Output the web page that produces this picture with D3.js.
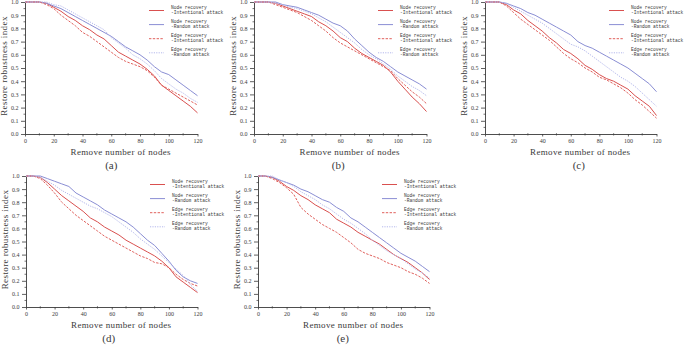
<!DOCTYPE html>
<html>
<head>
<meta charset="utf-8">
<script src="https://cdn.jsdelivr.net/npm/d3@7"></script>
<style>
  body { margin: 0; background: #fff; }
  svg { display: block; }
</style>
</head>
<body>
<div id="chart"></div>
<script>
// x 轴：移除节点数
const removed = [0, 5, 10, 15, 20, 25, 30, 35, 40, 45, 50, 55, 60, 65, 70, 75, 80, 85, 90, 95, 100, 105, 110, 115, 120];
const xTicks = [0, 20, 40, 60, 80, 100, 120];
const yTicks = [0, 0.1, 0.2, 0.3, 0.4, 0.5, 0.6, 0.7, 0.8, 0.9, 1.0];

const seriesNames = [
    ["Node recovery", "-Intentional attack"],
    ["Node recovery", "-Random attack"],
    ["Edge recovery", "-Intentional attack"],
    ["Edge recovery", "-Random attack"]
];
const panelLabels = ["(a)", "(b)", "(c)", "(d)", "(e)"];

// (a)
const aNodeInt  = [1, 1, 1, 0.99, 0.96, 0.93, 0.89, 0.86, 0.82, 0.79, 0.75, 0.72, 0.67, 0.62, 0.59, 0.56, 0.53, 0.49, 0.44, 0.37, 0.33, 0.29, 0.25, 0.21, 0.16];
const aNodeRand = [1, 1, 1, 0.99, 0.97, 0.95, 0.92, 0.89, 0.86, 0.83, 0.80, 0.77, 0.74, 0.70, 0.66, 0.63, 0.60, 0.56, 0.51, 0.47, 0.45, 0.41, 0.37, 0.33, 0.29];
const aEdgeInt  = [1, 1, 1, 0.98, 0.95, 0.90, 0.86, 0.82, 0.77, 0.74, 0.70, 0.66, 0.62, 0.58, 0.55, 0.53, 0.51, 0.48, 0.43, 0.37, 0.34, 0.31, 0.28, 0.25, 0.22];
const aEdgeRand = [1, 1, 1, 1.0, 0.98, 0.97, 0.94, 0.91, 0.88, 0.85, 0.82, 0.79, 0.73, 0.69, 0.65, 0.60, 0.57, 0.53, 0.48, 0.42, 0.38, 0.34, 0.31, 0.27, 0.24];

// (b)
const bNodeInt  = [1, 1, 1, 0.99, 0.97, 0.95, 0.93, 0.91, 0.89, 0.85, 0.82, 0.78, 0.73, 0.70, 0.65, 0.61, 0.58, 0.55, 0.52, 0.47, 0.40, 0.34, 0.28, 0.23, 0.17];
const bNodeRand = [1, 1, 1, 1.0, 0.98, 0.97, 0.96, 0.94, 0.92, 0.90, 0.87, 0.84, 0.82, 0.78, 0.72, 0.67, 0.62, 0.58, 0.55, 0.51, 0.47, 0.44, 0.41, 0.38, 0.34];
const bEdgeInt  = [1, 1, 1, 0.98, 0.96, 0.94, 0.92, 0.89, 0.86, 0.82, 0.78, 0.73, 0.69, 0.66, 0.63, 0.60, 0.57, 0.54, 0.51, 0.48, 0.42, 0.37, 0.32, 0.28, 0.23];
const bEdgeRand = [1, 1, 1, 0.99, 0.98, 0.96, 0.95, 0.93, 0.91, 0.88, 0.85, 0.81, 0.77, 0.73, 0.69, 0.64, 0.60, 0.57, 0.53, 0.49, 0.44, 0.40, 0.36, 0.33, 0.29];

// (c)
const cNodeInt  = [1, 1, 1, 0.98, 0.94, 0.91, 0.86, 0.82, 0.78, 0.73, 0.69, 0.64, 0.61, 0.57, 0.52, 0.49, 0.45, 0.42, 0.40, 0.37, 0.34, 0.29, 0.25, 0.21, 0.14];
const cNodeRand = [1, 1, 1, 0.99, 0.97, 0.95, 0.92, 0.90, 0.87, 0.84, 0.81, 0.78, 0.75, 0.70, 0.67, 0.65, 0.62, 0.59, 0.56, 0.53, 0.50, 0.46, 0.42, 0.38, 0.32];
const cEdgeInt  = [1, 1, 1, 0.97, 0.92, 0.87, 0.83, 0.79, 0.75, 0.71, 0.66, 0.61, 0.57, 0.54, 0.50, 0.47, 0.43, 0.41, 0.38, 0.35, 0.31, 0.26, 0.22, 0.17, 0.12];
const cEdgeRand = [1, 1, 1, 0.99, 0.96, 0.93, 0.90, 0.87, 0.84, 0.80, 0.76, 0.72, 0.68, 0.66, 0.63, 0.59, 0.55, 0.51, 0.47, 0.43, 0.40, 0.36, 0.31, 0.26, 0.21];

// (d)
const dNodeInt  = [1, 1, 0.99, 0.95, 0.90, 0.85, 0.81, 0.77, 0.73, 0.68, 0.65, 0.61, 0.58, 0.55, 0.51, 0.48, 0.45, 0.42, 0.39, 0.35, 0.30, 0.23, 0.19, 0.15, 0.11];
const dNodeRand = [1, 1, 1.0, 0.98, 0.96, 0.94, 0.92, 0.87, 0.84, 0.81, 0.78, 0.74, 0.71, 0.68, 0.65, 0.61, 0.56, 0.51, 0.47, 0.41, 0.35, 0.28, 0.23, 0.20, 0.18];
const dEdgeInt  = [1, 1, 0.98, 0.93, 0.87, 0.80, 0.75, 0.70, 0.66, 0.62, 0.58, 0.54, 0.51, 0.48, 0.45, 0.42, 0.39, 0.37, 0.34, 0.33, 0.30, 0.25, 0.21, 0.18, 0.16];
const dEdgeRand = [1, 1, 0.99, 0.96, 0.93, 0.89, 0.86, 0.83, 0.80, 0.77, 0.75, 0.72, 0.69, 0.65, 0.61, 0.57, 0.52, 0.48, 0.44, 0.39, 0.34, 0.29, 0.24, 0.17, 0.12];

// (e)
const eNodeInt  = [1, 1, 0.99, 0.96, 0.92, 0.89, 0.85, 0.82, 0.78, 0.75, 0.72, 0.67, 0.64, 0.61, 0.57, 0.54, 0.51, 0.48, 0.44, 0.40, 0.37, 0.34, 0.30, 0.26, 0.21];
const eNodeRand = [1, 1, 0.99, 0.97, 0.95, 0.93, 0.90, 0.88, 0.85, 0.82, 0.80, 0.76, 0.73, 0.68, 0.65, 0.61, 0.57, 0.53, 0.49, 0.45, 0.41, 0.38, 0.35, 0.31, 0.27];
const eEdgeInt  = [1, 1, 0.98, 0.95, 0.91, 0.86, 0.76, 0.71, 0.67, 0.63, 0.60, 0.57, 0.53, 0.49, 0.44, 0.41, 0.39, 0.37, 0.34, 0.32, 0.30, 0.27, 0.25, 0.22, 0.18];
const eEdgeRand = [1, 1, 1.0, 0.97, 0.95, 0.92, 0.88, 0.85, 0.82, 0.78, 0.75, 0.71, 0.67, 0.64, 0.60, 0.56, 0.51, 0.47, 0.43, 0.40, 0.37, 0.33, 0.29, 0.26, 0.22];

const panelData = [
    [aNodeInt, aNodeRand, aEdgeInt, aEdgeRand],
    [bNodeInt, bNodeRand, bEdgeInt, bEdgeRand],
    [cNodeInt, cNodeRand, cEdgeInt, cEdgeRand],
    [dNodeInt, dNodeRand, dEdgeInt, dEdgeRand],
    [eNodeInt, eNodeRand, eEdgeInt, eEdgeRand]
];

// 每个子图的绘图区位置
const layout = [
    { left: 25,  right: 197.5, top: 2,   bottom: 134, labelDx: 0 },
    { left: 254, right: 426.5, top: 2,   bottom: 134, labelDx: -2 },
    { left: 485, right: 656.5, top: 2,   bottom: 134, labelDx: 8 },
    { left: 26,  right: 197.5, top: 176, bottom: 307, labelDx: -3 },
    { left: 258, right: 429.5, top: 176, bottom: 307, labelDx: -1, clip: 458 }
];

// 线条样式
const styles = [
    { color: "#d9504f", dash: null,      width: 1 },
    { color: "#8a8ed4", dash: null,      width: 1 },
    { color: "#e0605c", dash: "2.4,1.4", width: 1 },
    { color: "#b4b8ec", dash: "1.2,1.2", width: 1 }
];

const W = 685, H = 345;
const serif = "'Liberation Serif', 'DejaVu Serif', serif";
const mono = "'Liberation Mono', 'DejaVu Sans Mono', monospace";
const ink = "#3a3a3a";

const svg = d3.select("#chart")
    .append("svg")
    .attr("width", W)
    .attr("height", H);

layout.forEach((p, i) => {
    let g = svg.append("g");

    if (p.clip) {
        svg.append("clipPath")
            .attr("id", "clip" + i)
            .append("rect")
            .attr("x", 0).attr("y", 0)
            .attr("width", p.clip).attr("height", H);
        g.attr("clip-path", `url(#clip${i})`);
    }

    const x = d3.scaleLinear().domain([0, 120]).range([p.left, p.right]);
    const y = d3.scaleLinear().domain([0, 1]).range([p.bottom, p.top]);

    // 次刻度
    g.append("g")
        .selectAll("line")
        .data(d3.range(10, 120, 20))
        .join("line")
        .attr("x1", d => x(d)).attr("x2", d => x(d))
        .attr("y1", p.bottom - 0.8).attr("y2", p.bottom + 1.5)
        .attr("stroke", ink).attr("stroke-width", 0.7);
    g.append("g")
        .selectAll("line")
        .data(d3.range(0.05, 1, 0.1))
        .join("line")
        .attr("x1", p.left - 1.5).attr("x2", p.left + 0.8)
        .attr("y1", d => y(d)).attr("y2", d => y(d))
        .attr("stroke", ink).attr("stroke-width", 0.7);

    // X 轴
    const xAxis = g.append("g")
        .attr("transform", `translate(0,${p.bottom})`)
        .call(d3.axisBottom(x).tickValues(xTicks).tickSize(2.5).tickPadding(2).tickSizeOuter(0));
    // Y 轴
    const yAxis = g.append("g")
        .attr("transform", `translate(${p.left},0)`)
        .call(d3.axisLeft(y).tickValues(yTicks).tickFormat(d3.format(".1f")).tickSize(4).tickPadding(2.5).tickSizeOuter(0));

    [xAxis, yAxis].forEach(a => {
        a.select(".domain").attr("stroke", ink).attr("stroke-width", 0.9);
        a.selectAll(".tick line").attr("stroke", ink).attr("stroke-width", 0.8);
        a.selectAll(".tick text")
            .attr("font-family", serif)
            .attr("font-size", 6)
            .attr("fill", ink);
    });

    // 折线
    const line = d3.line()
        .x((d, k) => x(removed[k]))
        .y(d => y(d));

    panelData[i].forEach((vals, s) => {
        g.append("path")
            .datum(vals)
            .attr("fill", "none")
            .attr("stroke", styles[s].color)
            .attr("stroke-width", styles[s].width)
            .attr("stroke-dasharray", styles[s].dash)
            .attr("stroke-linejoin", "round")
            .attr("d", line);
    });

    // 图例
    const legend = g.append("g")
        .attr("transform", `translate(${p.left + 124}, ${p.top + 8.5})`);

    seriesNames.forEach((name, s) => {
        const item = legend.append("g")
            .attr("transform", `translate(0, ${s * 14.1})`);
        item.append("line")
            .attr("x1", 0).attr("x2", 15)
            .attr("y1", 0).attr("y2", 0)
            .attr("stroke", styles[s].color)
            .attr("stroke-width", 1)
            .attr("stroke-dasharray", styles[s].dash);
        item.append("text")
            .attr("x", 22).attr("y", -1.8)
            .attr("font-family", mono)
            .attr("font-size", 4.6)
            .attr("fill", ink)
            .text(name[0]);
        item.append("text")
            .attr("x", 22).attr("y", 3)
            .attr("font-family", mono)
            .attr("font-size", 4.6)
            .attr("fill", ink)
            .text(name[1]);
    });

    // 轴标题
    const cx = (p.left + p.right) / 2;
    g.append("text")
        .attr("x", cx + 9.5)
        .attr("y", p.bottom + 21)
        .attr("text-anchor", "middle")
        .attr("font-family", serif)
        .attr("font-size", 9)
        .attr("letter-spacing", 0.35)
        .attr("fill", ink)
        .text("Remove number of nodes");

    g.append("text")
        .attr("transform", `translate(${p.left - 18},${(p.top + p.bottom) / 2 - 2}) rotate(-90)`)
        .attr("text-anchor", "middle")
        .attr("font-family", serif)
        .attr("font-size", 9)
        .attr("letter-spacing", 0.4)
        .attr("fill", ink)
        .text("Restore robustness index");

    // 子图编号
    g.append("text")
        .attr("x", cx + p.labelDx)
        .attr("y", p.bottom + 35)
        .attr("text-anchor", "middle")
        .attr("font-family", serif)
        .attr("font-size", 11)
        .attr("fill", ink)
        .text(panelLabels[i]);
});
</script>
</body>
</html>
